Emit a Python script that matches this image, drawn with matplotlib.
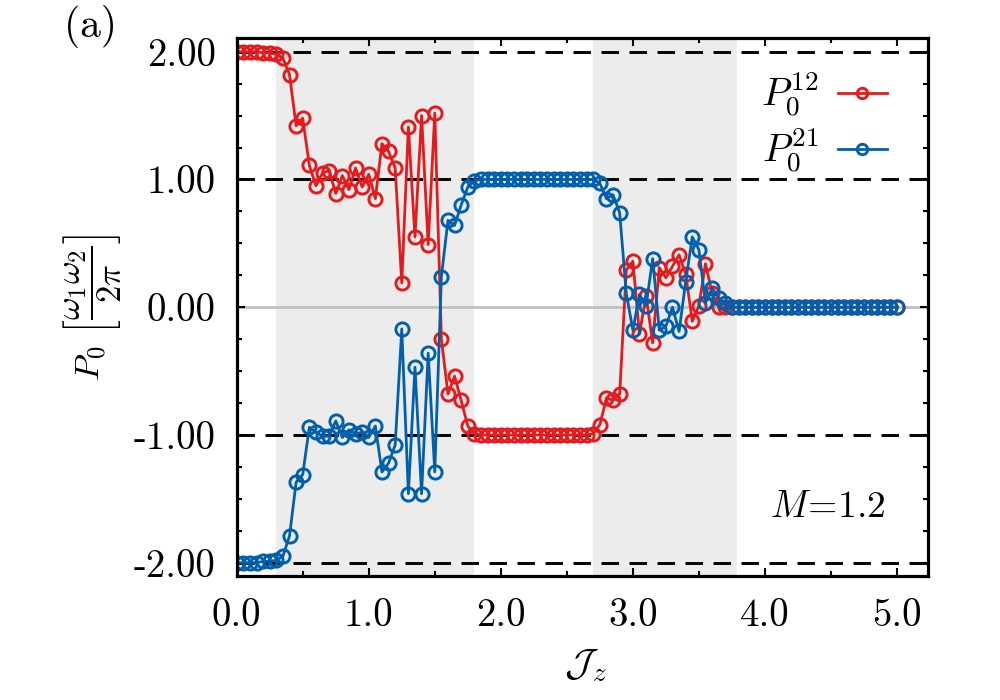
import numpy as np
import matplotlib
matplotlib.use("Agg")
import matplotlib.pyplot as plt
from matplotlib.ticker import MultipleLocator, FixedLocator, FixedFormatter

# ---------------- data ----------------
Jz = [0.00, 0.05, 0.10, 0.15, 0.20, 0.25, 0.30, 0.35, 0.40, 0.45,
      0.50, 0.55, 0.60, 0.65, 0.70, 0.75, 0.80, 0.85, 0.90, 0.95,
      1.00, 1.05, 1.10, 1.15, 1.20, 1.25, 1.30, 1.35, 1.40, 1.45,
      1.50, 1.55, 1.60, 1.65, 1.70, 1.75, 1.80, 1.85, 1.90, 1.95,
      2.00, 2.05, 2.10, 2.15, 2.20, 2.25, 2.30, 2.35, 2.40, 2.45,
      2.50, 2.55, 2.60, 2.65, 2.70, 2.75, 2.80, 2.85, 2.90, 2.95,
      3.00, 3.05, 3.10, 3.15, 3.20, 3.25, 3.30, 3.35, 3.40, 3.45,
      3.50, 3.55, 3.60, 3.65, 3.70, 3.75, 3.80, 3.85, 3.90, 3.95,
      4.00, 4.05, 4.10, 4.15, 4.20, 4.25, 4.30, 4.35, 4.40, 4.45,
      4.50, 4.55, 4.60, 4.65, 4.70, 4.75, 4.80, 4.85, 4.90, 4.95,
      5.00]

P12 = [2.00, 2.00, 2.00, 2.00, 1.99, 1.99, 1.98, 1.95, 1.82, 1.42,
       1.48, 1.11, 0.95, 1.05, 1.07, 0.89, 1.03, 0.92, 1.09, 0.94,
       1.04, 0.85, 1.28, 1.22, 1.09, 0.19, 1.41, 0.55, 1.50, 0.49,
       1.52, -0.25, -0.68, -0.54, -0.73, -0.93, -0.99, -1.00, -1.00, -1.00,
       -1.00, -1.00, -1.00, -1.00, -1.00, -1.00, -1.00, -1.00, -1.00, -1.00,
       -1.00, -1.00, -1.00, -1.00, -0.99, -0.92, -0.71, -0.73, -0.68, 0.29,
       0.36, -0.21, 0.09, -0.28, 0.31, 0.23, 0.32, 0.41, 0.26, -0.11,
       0.01, 0.34, 0.11, 0.00, 0.00, 0.00, 0.00, 0.00, 0.00, 0.00,
       0.00, 0.00, 0.00, 0.00, 0.00, 0.00, 0.00, 0.00, 0.00, 0.00,
       0.00, 0.00, 0.00, 0.00, 0.00, 0.00, 0.00, 0.00, 0.00, 0.00,
       0.00]

P21 = [-2.00, -2.00, -2.00, -2.00, -1.99, -1.99, -1.98, -1.95, -1.79, -1.37,
       -1.31, -0.94, -0.98, -1.01, -1.01, -0.89, -1.02, -0.96, -0.99, -0.98,
       -1.02, -0.93, -1.29, -1.22, -1.08, -0.17, -1.46, -0.47, -1.46, -0.36,
       -1.29, 0.24, 0.68, 0.64, 0.80, 0.94, 0.99, 1.00, 1.00, 1.00,
       1.00, 1.00, 1.00, 1.00, 1.00, 1.00, 1.00, 1.00, 1.00, 1.00,
       1.00, 1.00, 1.00, 1.00, 1.00, 0.97, 0.85, 0.88, 0.74, 0.11,
       -0.18, 0.10, 0.01, 0.38, -0.18, -0.15, 0.00, -0.19, 0.20, 0.55,
       0.45, 0.03, 0.15, 0.07, 0.03, 0.00, 0.00, 0.00, 0.00, 0.00,
       0.00, 0.00, 0.00, 0.00, 0.00, 0.00, 0.00, 0.00, 0.00, 0.00,
       0.00, 0.00, 0.00, 0.00, 0.00, 0.00, 0.00, 0.00, 0.00, 0.00,
       0.00]

shaded_regions = [(0.30, 1.80), (2.70, 3.79)]
dashed_levels = [-2.0, -1.0, 1.0, 2.0]
xtick_vals = [0.0, 1.0, 2.0, 3.0, 4.0, 5.0]
xtick_labels = ["0.0", "1.0", "2.0", "3.0", "4.0", "5.0"]
ytick_vals = [-2.0, -1.0, 0.0, 1.0, 2.0]
ytick_labels = ["-2.00", "-1.00", "0.00", "1.00", "2.00"]
series_labels = [r"$P_0^{12}$", r"$P_0^{21}$"]
annot_text = r"$M\!=\!1.2$"
panel_label = "(a)"

# ---------------- style ----------------
plt.rcParams["font.family"] = ["cmr10", "DejaVu Serif"]
plt.rcParams["mathtext.fontset"] = "cm"
plt.rcParams["axes.formatter.use_mathtext"] = True

red = "#e41a1c"
blue = "#0060ad"

fig = plt.figure(figsize=(10, 7), dpi=100)
ax = fig.add_axes([0.2367, 0.177, 0.6913, 0.7683])

for (a, b) in shaded_regions:
    ax.axvspan(a, b, color="#ececec", lw=0, zorder=0)

ax.axhline(0.0, color="#c0c0c0", lw=2.0, zorder=1)
for lv in dashed_levels:
    ax.axhline(lv, color="black", lw=2.1, ls=(0, (6, 3.6)), zorder=1)

common = dict(lw=2.0, marker="o", markersize=9.5, markerfacecolor="none",
              markeredgewidth=2.1, zorder=3)
ax.plot(Jz, P12, color=red, label=series_labels[0], **common)
ax.plot(Jz, P21, color=blue, label=series_labels[1], **common)

ax.set_xlim(0.0, 5.235)
ax.set_ylim(-2.105, 2.105)

ax.xaxis.set_major_locator(FixedLocator(xtick_vals))
ax.xaxis.set_major_formatter(FixedFormatter(xtick_labels))
ax.xaxis.set_minor_locator(MultipleLocator(0.5))
ax.yaxis.set_major_locator(FixedLocator(ytick_vals))
ax.yaxis.set_major_formatter(FixedFormatter(ytick_labels))
ax.yaxis.set_minor_locator(MultipleLocator(0.25))

ax.tick_params(which="both", direction="in", top=True, right=True,
               width=1.5, labelsize=28)
ax.tick_params(which="major", length=6)
ax.tick_params(which="minor", length=3.5)
ax.tick_params(axis="x", which="major", pad=16)
ax.tick_params(axis="y", which="major", pad=15)

for sp in ax.spines.values():
    sp.set_linewidth(2.3)
    sp.set_zorder(5)

ax.set_xlabel(r"$\mathcal{J}_z$", fontsize=28, va="center")
ax.xaxis.set_label_coords(0.504, -0.166)
ax.set_ylabel(r"$P_0\ \left[\dfrac{\omega_1\omega_2}{2\pi}\right]$", fontsize=25,
              va="center")
ax.yaxis.set_label_coords(-0.209, 0.5)

leg = ax.legend(loc="upper right", bbox_to_anchor=(0.94, 0.94),
                frameon=False, fontsize=28, markerfirst=False,
                handlelength=1.25, handletextpad=0.5, labelspacing=0.18,
                borderpad=0.0, borderaxespad=0.0)
for h in leg.legend_handles:
    h.set_markersize(7.5)

ax.text(4.48, -1.57, annot_text, fontsize=27, ha="center", va="center")
fig.text(0.09, 0.962, panel_label, fontsize=30, ha="center", va="center")

fig.savefig("out.png", dpi=100)
